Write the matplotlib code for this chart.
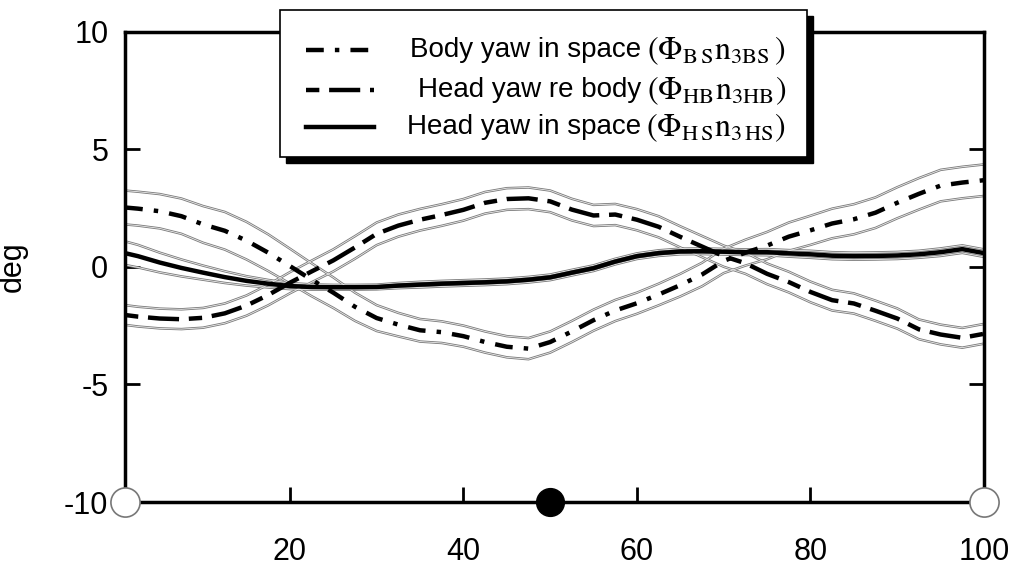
import matplotlib
matplotlib.use("Agg")
import matplotlib.pyplot as plt
from matplotlib.lines import Line2D
from matplotlib.patches import Rectangle
import numpy as np

plt.rcParams["font.family"] = ["Liberation Sans", "DejaVu Sans"]
plt.rcParams["axes.unicode_minus"] = False

# ---------------------------------------------------------------------------
# Data (percent of cycle, degrees)
# ---------------------------------------------------------------------------
cycle_pct = [1, 2.5, 5, 7.5, 10, 12.5, 15, 17.5, 20, 22.5, 25, 27.5, 30, 32.5,
             35, 37.5, 40, 42.5, 45, 47.5, 50, 52.5, 55, 57.5, 60, 62.5, 65,
             67.5, 70, 72.5, 75, 77.5, 80, 82.5, 85, 87.5, 90, 92.5, 95, 97.5, 100]

body_in_space = [2.52, 2.47, 2.36, 2.15, 1.80, 1.53, 1.11, 0.60, 0.03, -0.55,
                 -1.10, -1.70, -2.18, -2.46, -2.70, -2.78, -2.95, -3.20, -3.40, -3.48,
                 -3.20, -2.75, -2.27, -1.86, -1.55, -1.18, -0.78, -0.33, 0.25, 0.60,
                 0.90, 1.28, 1.55, 1.84, 2.02, 2.30, 2.72, 3.10, 3.45, 3.58, 3.68]
body_in_space_sd = [0.72, 0.72, 0.73, 0.75, 0.78, 0.80, 0.80, 0.78, 0.74, 0.70,
                    0.65, 0.60, 0.55, 0.50, 0.48, 0.46, 0.45, 0.45, 0.45, 0.45,
                    0.45, 0.45, 0.45, 0.45, 0.45, 0.46, 0.48, 0.50, 0.52, 0.55,
                    0.58, 0.60, 0.62, 0.63, 0.64, 0.65, 0.66, 0.67, 0.67, 0.67, 0.67]

head_re_body = [-2.05, -2.12, -2.20, -2.23, -2.17, -1.98, -1.65, -1.20, -0.68, -0.20,
                0.27, 0.82, 1.40, 1.75, 2.00, 2.20, 2.42, 2.72, 2.88, 2.91,
                2.78, 2.43, 2.18, 2.22, 2.00, 1.70, 1.27, 0.86, 0.45, 0.15,
                -0.30, -0.65, -1.07, -1.42, -1.56, -1.87, -2.20, -2.66, -2.88, -3.02, -2.85]
head_re_body_sd = [0.42, 0.42, 0.42, 0.42, 0.42, 0.42, 0.43, 0.44, 0.45, 0.46,
                   0.47, 0.48, 0.48, 0.47, 0.46, 0.46, 0.46, 0.46, 0.46, 0.46,
                   0.46, 0.46, 0.45, 0.45, 0.45, 0.45, 0.45, 0.45, 0.45, 0.45,
                   0.44, 0.44, 0.44, 0.44, 0.43, 0.43, 0.43, 0.42, 0.42, 0.42, 0.42]

head_in_space = [0.58, 0.45, 0.18, -0.05, -0.25, -0.44, -0.60, -0.72, -0.82, -0.86,
                 -0.87, -0.87, -0.86, -0.80, -0.76, -0.72, -0.69, -0.66, -0.62, -0.55,
                 -0.45, -0.25, -0.06, 0.22, 0.45, 0.58, 0.65, 0.66, 0.64, 0.62,
                 0.62, 0.57, 0.53, 0.47, 0.45, 0.46, 0.48, 0.53, 0.62, 0.75, 0.58]
head_in_space_sd = [0.50, 0.48, 0.42, 0.36, 0.30, 0.25, 0.20, 0.16, 0.13, 0.11,
                    0.10, 0.10, 0.10, 0.11, 0.12, 0.12, 0.12, 0.12, 0.12, 0.12,
                    0.12, 0.12, 0.12, 0.12, 0.12, 0.12, 0.12, 0.12, 0.12, 0.12,
                    0.13, 0.14, 0.15, 0.15, 0.15, 0.15, 0.15, 0.15, 0.16, 0.16, 0.16]

series_names = ["Body yaw in space", "Head yaw re body", "Head yaw in space"]
series_math = [r"$(\Phi_{\mathrm{B\,S}}\mathrm{n}_{\mathrm{3BS}}\,)$",
               r"$(\Phi_{\mathrm{HB}}\mathrm{n}_{\mathrm{3HB}})$",
               r"$(\Phi_{\mathrm{H\,S}}\mathrm{n}_{\mathrm{3\,HS}})$"]

y_ticks = [-10, -5, 0, 5, 10]
x_ticks = [20, 40, 60, 80, 100]
phase_marks_open = [1, 100]
phase_marks_filled = [50]

# line styles for the three means
DASH_BS = (0, (4, 2.5, 1, 2.5))
DASH_HB = (0, (3, 2.2, 7, 2.2))
STYLES = [DASH_BS, DASH_HB, "-"]


def draw_band(ax, x, y):
    # thin gray "double" line used for the +/- SD envelopes
    ax.plot(x, y, color="#7a7a7a", lw=1.8, solid_capstyle="butt", zorder=2)
    ax.plot(x, y, color="#ececec", lw=0.6, solid_capstyle="butt", zorder=2.1)


fig = plt.figure(figsize=(10.14, 5.65), dpi=100)
ax = fig.add_axes([0.1233, 0.1115, 0.8471, 0.8327])

x = np.array(cycle_pct)
for mean, sd, style in zip([body_in_space, head_re_body, head_in_space],
                           [body_in_space_sd, head_re_body_sd, head_in_space_sd],
                           STYLES):
    m = np.array(mean)
    s = np.array(sd)
    draw_band(ax, x, m + s)
    draw_band(ax, x, m - s)
    ax.plot(x, m, color="black", lw=3.2, linestyle=style,
            dash_capstyle="butt", zorder=3)

ax.set_xlim(1, 100)
ax.set_ylim(-10, 10)
ax.set_xticks(x_ticks)
ax.set_yticks(y_ticks)
ax.tick_params(axis="both", direction="in", length=11, width=2,
               labelsize=22, colors="black")
ax.tick_params(axis="y", right=True, pad=12)
ax.tick_params(axis="x", pad=25)
for sp in ax.spines.values():
    sp.set_linewidth(2.5)

ax.set_ylabel("deg", fontsize=22)
ax.yaxis.set_label_coords(-0.113, 0.5)

# phase markers on the time axis
ax.plot(phase_marks_open, [-10] * len(phase_marks_open), "o", ms=21,
        mfc="white", mec="#777777", mew=1.2, clip_on=False, zorder=6)
ax.plot(phase_marks_filled, [-10] * len(phase_marks_filled), "o", ms=20,
        mfc="black", mec="black", clip_on=False, zorder=6)

# ---------------------------------------------------------------------------
# Legend box with drop shadow (figure pixel coords)
# ---------------------------------------------------------------------------
W, H = 1014.0, 565.0


def fx(px):
    return px / W


def fy(py):
    return 1 - py / H


box_l, box_r, box_t, box_b = 280, 807, 10, 157
fig.add_artist(Rectangle((fx(box_l + 6), fy(box_b + 6)), fx(box_r - box_l),
                         (box_b - box_t) / H, transform=fig.transFigure,
                         facecolor="black", edgecolor="black", zorder=8))
fig.add_artist(Rectangle((fx(box_l), fy(box_b)), fx(box_r - box_l),
                         (box_b - box_t) / H, transform=fig.transFigure,
                         facecolor="white", edgecolor="black", lw=1.2, zorder=9))

rows = [50, 90, 127]
for row, name, math, style in zip(rows, series_names, series_math, STYLES):
    fig.add_artist(Line2D([fx(306), fx(374)], [fy(row), fy(row)],
                          transform=fig.transFigure, color="black", lw=3.2,
                          linestyle=style, dash_capstyle="butt", zorder=10))
    fig.text(fx(641), fy(row), name, ha="right", va="center", fontsize=20,
             zorder=10)
    fig.text(fx(786), fy(row + 1), math, ha="right", va="center", fontsize=23,
             math_fontfamily="stix", zorder=10)

fig.savefig("out.png", dpi=100)
